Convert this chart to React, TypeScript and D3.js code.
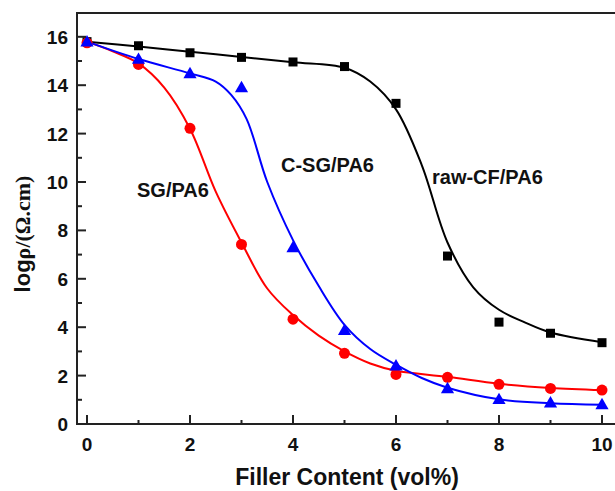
import React from 'react';
import * as d3 from 'd3';

// measured points, logρ vs filler content
const fillerContent = [0, 1, 2, 3, 4, 5, 6, 7, 8, 9, 10];
const rawCF = [15.8, 15.63, 15.34, 15.15, 14.96, 14.77, 13.25, 6.94, 4.21, 3.75, 3.36];
const sgPA6 = [15.75, 14.86, 12.22, 7.42, 4.33, 2.92, 2.05, 1.93, 1.64, 1.47, 1.4];
const csgPA6 = [15.8, 15.08, 14.49, 13.91, 7.3, 3.88, 2.41, 1.47, 1.02, 0.88, 0.81];

// fitted curves
const rawCFFitX = [0, 1, 2, 3, 4, 5, 5.5, 6, 6.5, 7, 7.5, 8, 8.5, 9, 10];
const rawCFFitY = [15.8, 15.6, 15.38, 15.17, 14.95, 14.72, 14.15, 13.0, 10.7, 7.5, 5.65, 4.72, 4.2, 3.78, 3.38];
const sgFitX = [0, 0.5, 1, 1.5, 2, 2.5, 3, 3.5, 4, 4.5, 5, 5.5, 6, 7, 8, 9, 10];
const sgFitY = [15.8, 15.4, 14.9, 13.9, 12.2, 9.6, 7.5, 5.6, 4.5, 3.65, 3.0, 2.5, 2.2, 1.95, 1.66, 1.49, 1.4];
const csgFitX = [0, 1, 2, 2.5, 2.8, 3.1, 3.5, 4, 4.5, 5, 5.5, 6, 6.5, 7, 8, 9, 10];
const csgFitY = [15.8, 15.08, 14.49, 14.15, 13.6, 12.6, 10.0, 7.6, 5.7, 4.1, 3.1, 2.45, 1.9, 1.5, 1.02, 0.86, 0.8];

const xTicks = [0, 2, 4, 6, 8, 10];
const xMinor = [1, 3, 5, 7, 9];
const yTicks = [0, 2, 4, 6, 8, 10, 12, 14, 16];
const yMinor = [1, 3, 5, 7, 9, 11, 13, 15];

const W = 615;
const H = 491;
const frameL = 77;
const frameT = 13;
const frameB = 424;

const x = d3.scaleLinear().domain([0, 10]).range([87, 602]);
const y = d3.scaleLinear().domain([0, 16]).range([424, 36.8]);

const sans = 'Arial, "Liberation Sans", Helvetica, sans-serif';
const serif = '"Liberation Serif", "Times New Roman", serif';

const fit = d3
  .line<[number, number]>()
  .x((d) => x(d[0]))
  .y((d) => y(d[1]))
  .curve(d3.curveCatmullRom.alpha(0.5));

const zip = (a: number[], b: number[]): [number, number][] => a.map((v, i) => [v, b[i]]);

const tri = d3.symbol().type(d3.symbolTriangle).size(75)();

export default function App() {
  return (
    <svg
      width={W}
      height={H}
      style={{ position: 'absolute', left: 0, top: 0, background: '#fff' }}
    >
      {/* curves */}
      <path d={fit(zip(rawCFFitX, rawCFFitY)) || ''} fill="none" stroke="#000" strokeWidth={2} />
      <path d={fit(zip(sgFitX, sgFitY)) || ''} fill="none" stroke="#ff0000" strokeWidth={2} />
      <path d={fit(zip(csgFitX, csgFitY)) || ''} fill="none" stroke="#0000ff" strokeWidth={2} />

      {/* markers */}
      {fillerContent.map((v, i) => (
        <rect key={'s' + i} x={x(v) - 4.5} y={y(rawCF[i]) - 4.5} width={9} height={9} fill="#000" />
      ))}
      {fillerContent.map((v, i) => (
        <circle key={'c' + i} cx={x(v)} cy={y(sgPA6[i])} r={5.5} fill="#ff0000" />
      ))}
      {fillerContent.map((v, i) => (
        <path key={'t' + i} d={tri || ''} transform={`translate(${x(v)},${y(csgPA6[i]) + 1})`} fill="#0000ff" />
      ))}

      {/* frame */}
      <g stroke="#222" strokeWidth={2} fill="none">
        <line x1={frameL} x2={W} y1={frameT} y2={frameT} />
        <line x1={frameL} x2={frameL} y1={frameT - 1} y2={frameB + 1} />
        <line x1={frameL - 1} x2={W} y1={frameB} y2={frameB} />
        {xTicks.map((t) => (
          <line key={'xt' + t} x1={x(t)} x2={x(t)} y1={frameB} y2={frameB - 9} />
        ))}
        {xMinor.map((t) => (
          <line key={'xm' + t} x1={x(t)} x2={x(t)} y1={frameB} y2={frameB - 4} />
        ))}
        {yTicks.map((t) => (
          <line key={'yt' + t} x1={frameL} x2={frameL + 9} y1={y(t)} y2={y(t)} />
        ))}
        {yMinor.map((t) => (
          <line key={'ym' + t} x1={frameL} x2={frameL + 5} y1={y(t)} y2={y(t)} />
        ))}
      </g>

      {/* tick labels */}
      <g fontFamily={sans} fontWeight="bold" fontSize={19} fill="#111">
        {xTicks.map((t) => (
          <text key={'xl' + t} x={x(t)} y={451} textAnchor="middle">
            {t}
          </text>
        ))}
        {yTicks.map((t) => (
          <text key={'yl' + t} x={68} y={y(t) + 7} textAnchor="end">
            {t}
          </text>
        ))}
      </g>

      {/* axis titles */}
      <text x={347} y={485} textAnchor="middle" fontFamily={sans} fontWeight="bold" fontSize={23} fill="#111">
        Filler Content (vol%)
      </text>
      <text
        transform="translate(30,234) rotate(-90)"
        textAnchor="middle"
        fontWeight="bold"
        fontSize={22}
        fill="#111"
      >
        <tspan fontFamily={sans}>log</tspan>
        <tspan fontFamily={serif}>ρ/(Ω.cm)</tspan>
      </text>

      {/* series labels */}
      <g fontFamily={sans} fontWeight="bold" fontSize={20} fill="#111">
        <text x={137} y={197}>SG/PA6</text>
        <text x={281} y={172}>C-SG/PA6</text>
        <text x={432} y={184}>raw-CF/PA6</text>
      </g>
    </svg>
  );
}
